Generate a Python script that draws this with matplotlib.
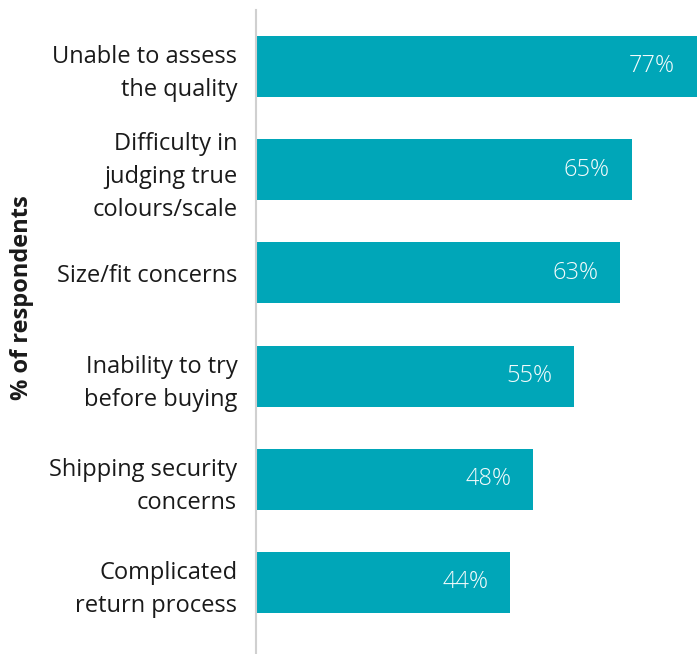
import matplotlib
matplotlib.use("Agg")
import matplotlib.pyplot as plt

categories = [
    "Unable to assess\nthe quality",
    "Difficulty in\njudging true\ncolours/scale",
    "Size/fit concerns",
    "Inability to try\nbefore buying",
    "Shipping security\nconcerns",
    "Complicated\nreturn process",
]
values = [77, 65, 63, 55, 48, 44]
value_labels = ["77%", "65%", "63%", "55%", "48%", "44%"]

plt.rcParams["font.family"] = ["Open Sans", "DejaVu Sans"]

fig = plt.figure(figsize=(6.97, 6.54), dpi=100)
ax = fig.add_axes([256 / 697, 0.0, 1 - 256 / 697, 1 - 10 / 654])

bar_color = "#00A6B8"
pos = list(range(len(categories)))
ax.barh(pos, values, height=0.59, color=bar_color, clip_on=True)

ax.set_xlim(0, 76.3)
ax.set_ylim(5.693, -0.547)

for p, v, lab in zip(pos, values, value_labels):
    ax.text(min(v, 76.3) - 3.8, p, lab, ha="right", va="center",
            color="#f4fbfc", fontsize=17, fontweight="light")

ax.set_yticks(pos)
ax.set_yticklabels(categories, fontsize=17, color="#1a1a1a", linespacing=1.5)
ax.tick_params(axis="y", length=0, pad=13.5)
ax.set_xticks([])

for s in ["top", "right", "bottom"]:
    ax.spines[s].set_visible(False)
ax.spines["left"].set_color("#d0d0d0")
ax.spines["left"].set_linewidth(1.5)

fig.text(22 / 697, 1 - 298 / 654, "% of respondents", rotation=90,
         ha="center", va="center", fontsize=17, fontweight="bold", color="#1a1a1a")

fig.savefig("out.png", dpi=100)
